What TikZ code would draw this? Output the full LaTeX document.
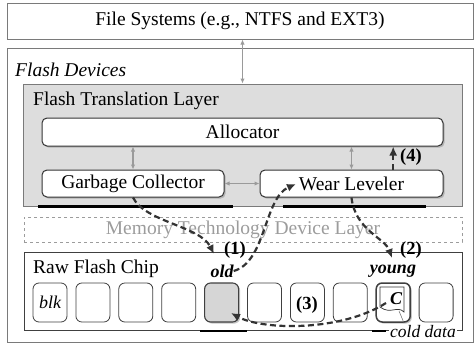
\documentclass[tikz,border=0pt]{standalone}
\usepackage{fontspec}
\setmainfont{Liberation Serif}
\usetikzlibrary{arrows.meta,shadows}
\definecolor{ftlgray}{HTML}{DDDDDD}
\definecolor{edgegray}{HTML}{7A7A7A}
\definecolor{lightarrow}{HTML}{9A9A9A}
\definecolor{darkdash}{HTML}{333333}
\definecolor{oldfill}{HTML}{D6D6D6}
\definecolor{mtdgray}{HTML}{9C9C9C}
\begin{document}
\begin{tikzpicture}[x=1pt,y=-1pt,
  txt/.style={font=\fontsize{19.5}{21}\selectfont, inner sep=0pt},
  itxt/.style={font=\fontsize{19.5}{21}\selectfont\itshape, inner sep=0pt},
  lbl/.style={font=\fontsize{18.5}{20}\selectfont\bfseries, inner sep=0pt},
  ilbl/.style={font=\fontsize{18}{20}\selectfont\bfseries\itshape, inner sep=0pt},
  layerbox/.style={draw=edgegray, line width=1pt, inner sep=0pt},
  swbox/.style={draw=black!80, line width=1pt, fill=white, rounded corners=5pt,
    inner sep=0pt, font=\fontsize{19.5}{21}\selectfont,
    drop shadow={shadow xshift=1.6pt, shadow yshift=-1.6pt, opacity=.45}},
  blkbox/.style={draw=black!75, line width=.8pt, fill=white, rounded corners=6pt,
    minimum width=34pt, minimum height=39pt, inner sep=0pt},
  biarrow/.style={draw=lightarrow, line width=1.1pt,
    {Latex[length=5pt,width=4.5pt]}-{Latex[length=5pt,width=4.5pt]}},
  dasharrow/.style={draw=darkdash, line width=2.2pt, dash pattern=on 6pt off 3.5pt,
    -{Latex[length=9pt,width=8pt]}},
]
\useasboundingbox (0,0) rectangle (474,343);

% outer layers
\node[layerbox, minimum width=466pt, minimum height=36pt, txt] (fs) at (240,21)
  {File Systems (e.g., NTFS and EXT3)};
\node[layerbox, minimum width=466pt, minimum height=294pt] (fd) at (240,195) {};
\node[itxt, anchor=west] (fdl) at (15,70) {Flash Devices};

% FTL
\node[layerbox, fill=ftlgray, minimum width=439pt, minimum height=122pt] (ftl) at (242.5,145) {};
\node[txt, anchor=west] (ftll) at (33,101) {Flash Translation Layer};
\node[swbox, minimum width=401pt, minimum height=28pt] (alloc) at (242.5,132) {Allocator};
\node[swbox, minimum width=182pt, minimum height=27pt] (gc) at (133,183.5) {Garbage Collector};
\node[swbox, minimum width=183pt, minimum height=27pt] (wl) at (351.5,183.5) {Wear Leveler};

% thick marks under FTL
\draw[line width=2.2pt] (38,206.5) -- (233,206.5);
\draw[line width=2.2pt] (283,206.5) -- (426,206.5);

% MTD
\node[draw=mtdgray, dashed, line width=.8pt, minimum width=438pt, minimum height=25pt,
  inner sep=0pt, txt, text=mtdgray] (mtd) at (243,229.5) {Memory Technology Device Layer};

% Raw flash chip
\node[layerbox, draw=black!75, minimum width=438pt, minimum height=78pt] (chip) at (243,291) {};
\node[txt, anchor=west] (chipl) at (33,269) {Raw Flash Chip};
\foreach \i in {1,2,3,4,6,7,8,10}
  \node[blkbox] (b\i) at ({50+42.9*(\i-1)},302.5) {};
\node[blkbox, fill=oldfill, line width=1.1pt,
  drop shadow={shadow xshift=1.6pt, shadow yshift=-1.6pt, opacity=.45}] (b5) at (221.6,302.5) {};
\node[blkbox, line width=1.5pt,
  drop shadow={shadow xshift=1.6pt, shadow yshift=-1.6pt, opacity=.45}] (b9) at (393.2,302.5) {};
\node[itxt, font=\fontsize{18}{20}\selectfont\itshape] (blkt) at (b1) {blk};

% small marks under chip
\draw[line width=2pt] (200,330.5) -- (247,330.5);
\draw[line width=2pt] (372,330.5) -- (386,330.5);

% cold data page inside young block
\draw[black!80, line width=.7pt] (380,287) -- (404,287) -- (404,312)
  .. controls (397,305) and (391,315) .. (380,307) -- cycle;
\node[ilbl] (ct) at (396,299) {C};
\node[fill=white, inner sep=1pt, font=\fontsize{17.5}{19}\selectfont\itshape] (cold) at (423,332) {cold data};
\draw[black!60, line width=.5pt] (399,311) -- (404,323);

% connectors between layers
\draw[biarrow] (fs.south -| ftl.north) -- (ftl.north);
\draw[biarrow] (alloc.south -| gc.north) -- (gc.north);
\draw[biarrow] (alloc.south -| wl.north) -- (wl.north);
\draw[biarrow] (gc.east) -- (wl.west);

% labels
\node[ilbl] (oldl) at (222,271) {old};
\node[ilbl] (youngl) at (393,271) {young};
\node[lbl] (l1) at (235,250.5) {(1)};
\node[lbl] (l2) at (411,250.5) {(2)};
\node[lbl] (l3) at (307,305) {(3)};
\node[lbl] (l4) at (411,157) {(4)};

% dashed operation arrows
\coordinate (p1) at (214,254);
\coordinate (pw) at (296,184);
\coordinate (p2) at (392,258);
\coordinate (cst) at (386,303);
\coordinate (p3) at (231,313);
\draw[dasharrow] (gc.south) .. controls (145,222) and (200,226) .. (p1);
\draw[dasharrow] (oldl.east) .. controls (266,262) and (264,198) .. (pw);
\draw[dasharrow] (wl.south) .. controls (355,230) and (385,238) .. (p2);
\draw[dasharrow] (cst) .. controls (340,332) and (262,330) .. (p3);
\draw[dasharrow] (wl.north -| b9) -- (alloc.south -| b9);
\end{tikzpicture}
\end{document}
